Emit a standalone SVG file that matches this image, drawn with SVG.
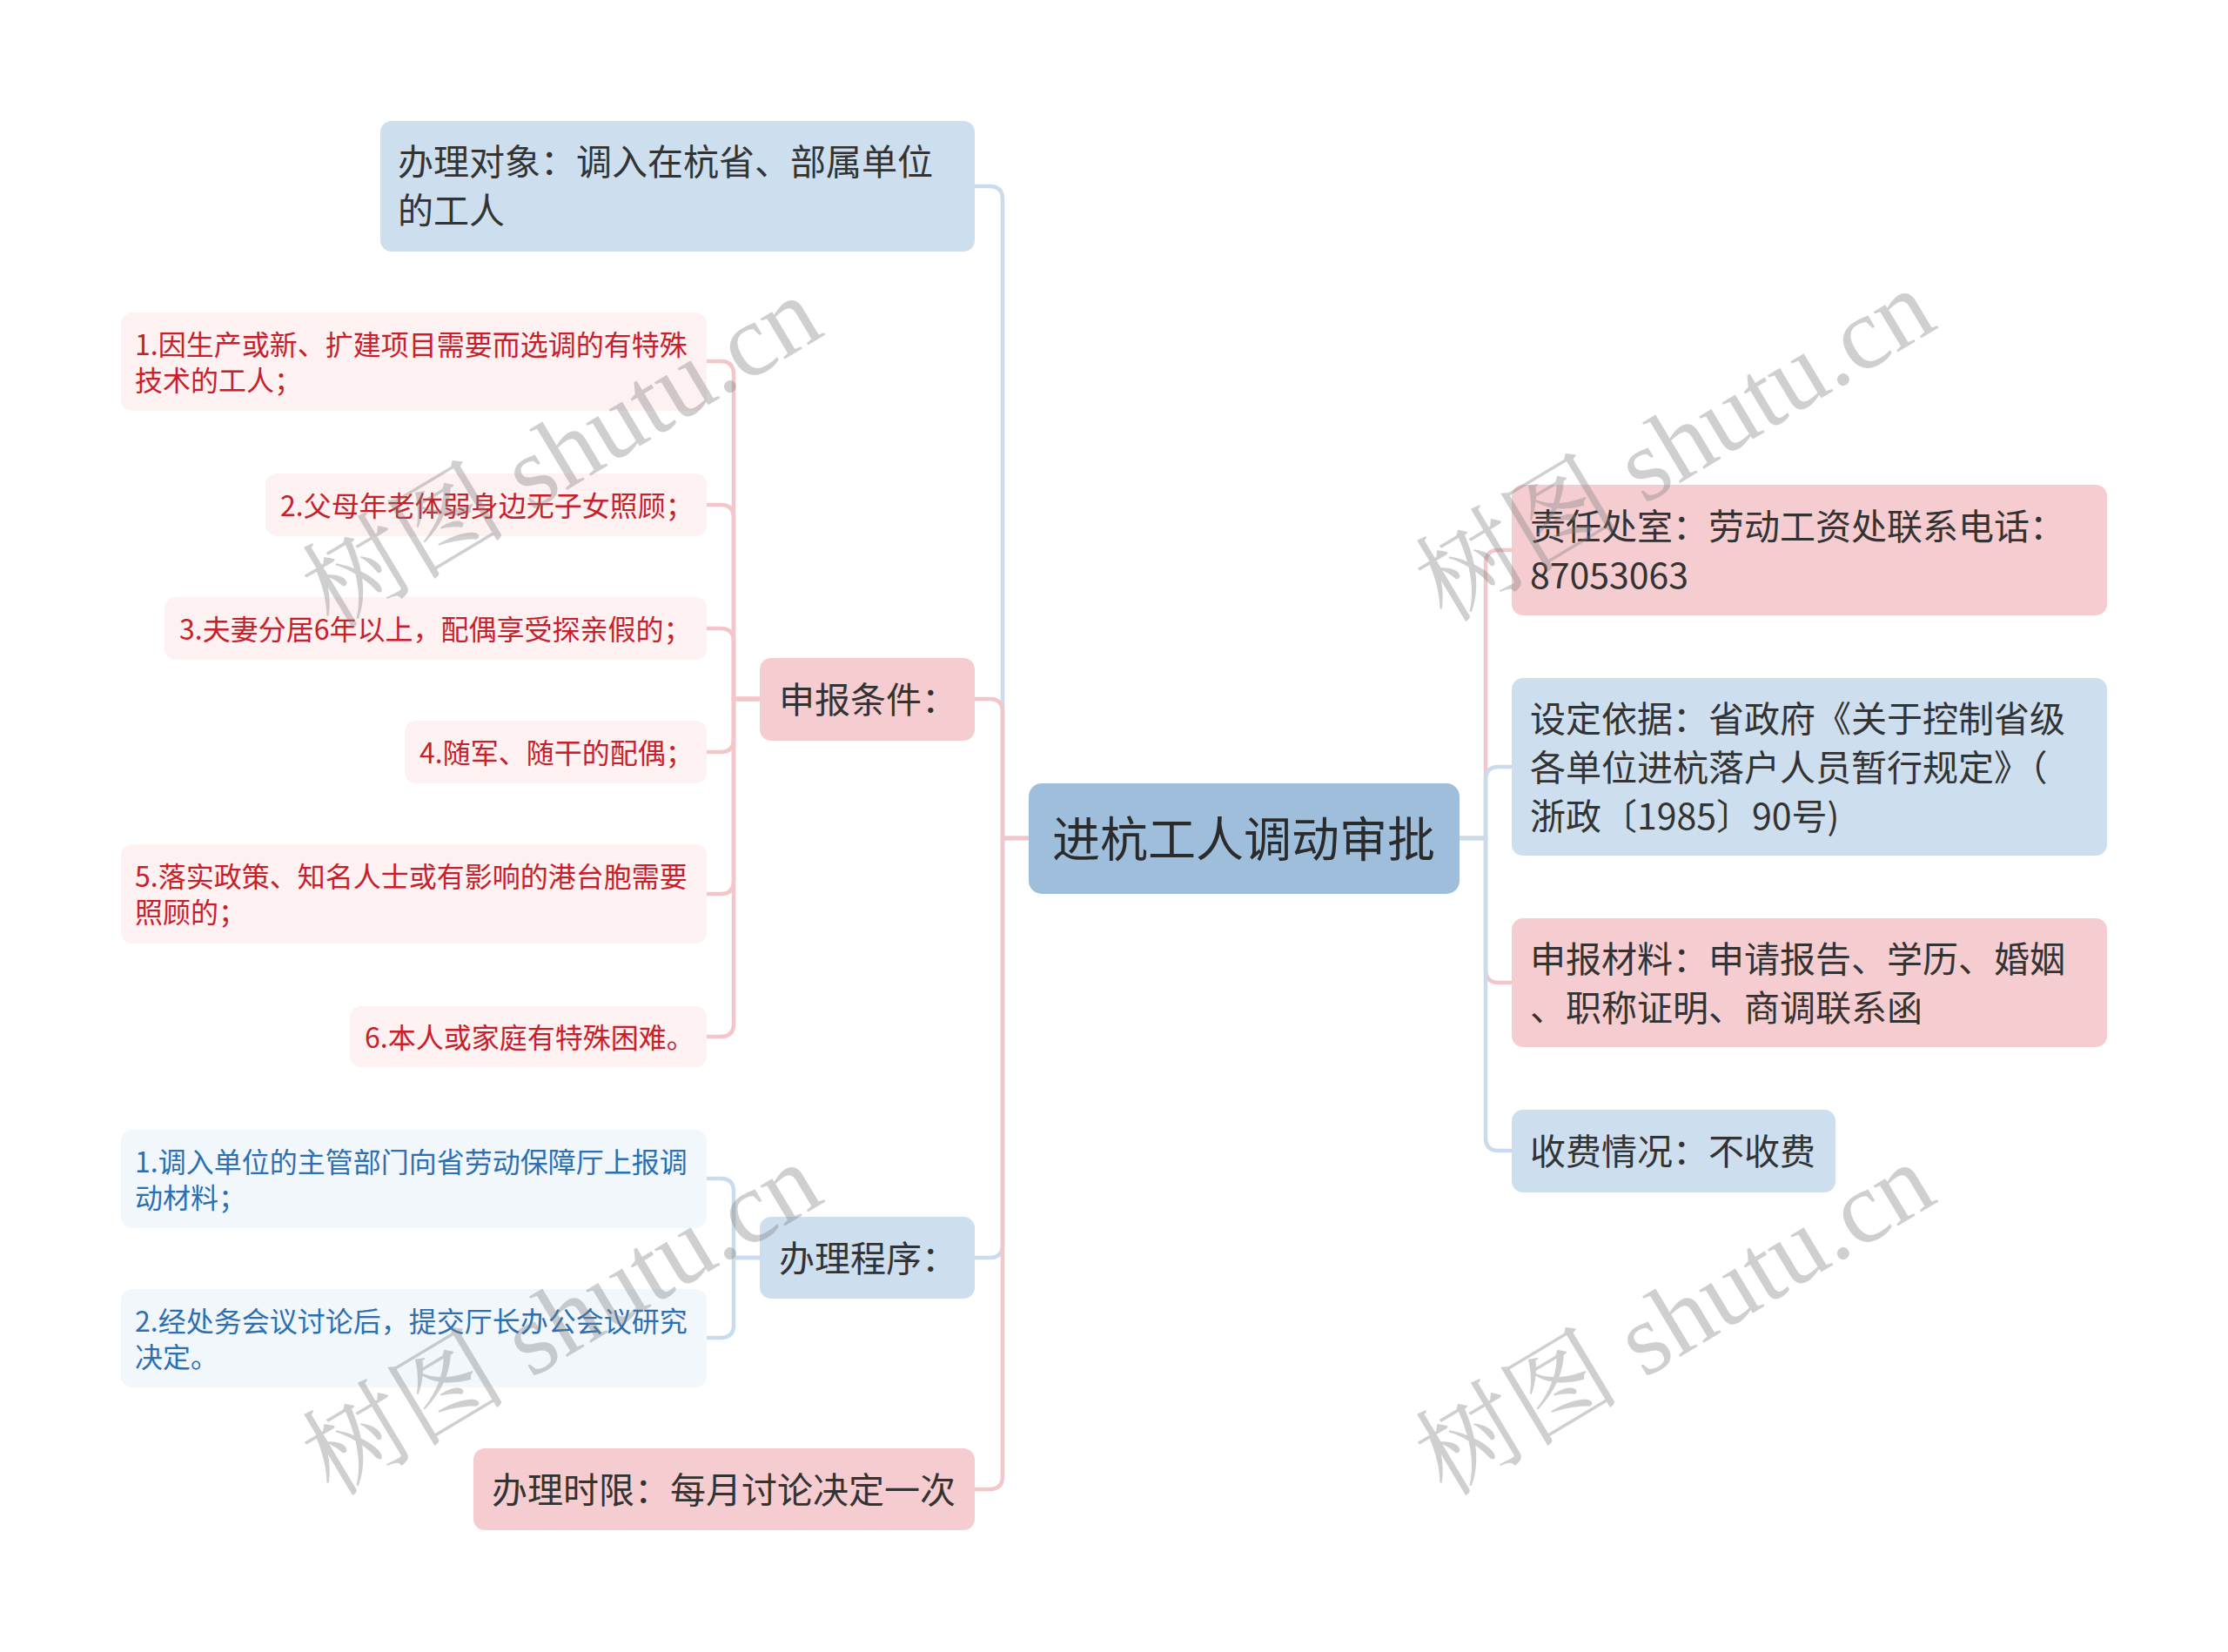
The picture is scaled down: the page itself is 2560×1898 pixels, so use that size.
<svg xmlns="http://www.w3.org/2000/svg" width="2560" height="1898" viewBox="0 0 2560 1898">
<style>
text{font-family:"Noto Sans CJK SC","Liberation Sans",sans-serif;dominant-baseline:central}
.root{fill:#9fbedc}
.b1{fill:#cddeee}
.p1{fill:#f5cdd0}
.p2{fill:#fdf1f2}
.b2{fill:#f2f7fc}
.t0{font-size:55px;fill:#2b2b2b}
.t1{font-size:41px;fill:#333333}
.tr{font-size:32px;fill:#c8202b}
.tb{font-size:32px;fill:#2c6fb2}
.cb{fill:none;stroke:#c9dbec;stroke-width:4.5}
.cp{fill:none;stroke:#f3c6ca;stroke-width:4.5}
.wm{font-family:"Liberation Serif","Noto Serif CJK SC","Noto Sans CJK SC",serif;font-size:118px;fill:#808080;fill-opacity:0.38;dominant-baseline:alphabetic}
</style>
<rect width="2560" height="1898" fill="#ffffff"/>
<g id="connectors">
<path class="cb" d="M1182 963H1152V229Q1152 214 1137 214H1120"/>
<path class="cb" d="M1182 963H1152V1430Q1152 1445 1137 1445H1120"/>
<path class="cp" d="M1182 963H1152V818Q1152 803 1137 803H1120"/>
<path class="cp" d="M1182 963H1152V1696Q1152 1711 1137 1711H1120"/>
<path class="cp" d="M1677 963H1707V647Q1707 632 1722 632H1737"/>
<path class="cp" d="M1677 963H1707V1114Q1707 1129 1722 1129H1737"/>
<path class="cb" d="M1677 963H1707V896Q1707 881 1722 881H1737"/>
<path class="cb" d="M1677 963H1707V1307Q1707 1322 1722 1322H1737"/>
<path class="cp" d="M873 803H843V430Q843 415 828 415H812"/>
<path class="cp" d="M873 803H843V595Q843 580 828 580H812"/>
<path class="cp" d="M873 803H843V737Q843 722 828 722H812"/>
<path class="cp" d="M873 803H843V849Q843 864 828 864H812"/>
<path class="cp" d="M873 803H843V1012Q843 1027 828 1027H812"/>
<path class="cp" d="M873 803H843V1176Q843 1191 828 1191H812"/>
<path class="cb" d="M873 1445H843V1369Q843 1354 828 1354H812"/>
<path class="cb" d="M873 1445H843V1522Q843 1537 828 1537H812"/>
</g>
<g id="root">
<rect class="root" x="1182" y="900" width="495" height="127" rx="15"/>
<text class="t0" x="1429" y="960" text-anchor="middle">进杭工人调动审批</text>
</g>
<g id="n-object">
<rect class="b1" x="437" y="139" width="683" height="150" rx="13"/>
<text class="t1" x="457" y="183">办理对象：调入在杭省、部属单位</text>
<text class="t1" x="457" y="239">的工人</text>
</g>
<g id="n-conditions">
<rect class="p1" x="873" y="756" width="247" height="95" rx="13"/>
<text class="t1" x="895" y="801">申报条件：</text>
</g>
<g id="n-procedure">
<rect class="b1" x="873" y="1398" width="247" height="94" rx="13"/>
<text class="t1" x="895" y="1443">办理程序：</text>
</g>
<g id="n-limit">
<rect class="p1" x="544" y="1664" width="576" height="94" rx="13"/>
<text class="t1" x="565" y="1709">办理时限：每月讨论决定一次</text>
</g>
<g id="n-office">
<rect class="p1" x="1737" y="557" width="684" height="150" rx="13"/>
<text class="t1" x="1758" y="602">责任处室：劳动工资处联系电话：</text>
<text class="t1" x="1758" y="658">87053063</text>
</g>
<g id="n-basis">
<rect class="b1" x="1737" y="779" width="684" height="204" rx="13"/>
<text class="t1" x="1758" y="823">设定依据：省政府《关于控制省级</text>
<text class="t1" x="1758" y="879">各单位进杭落户人员暂行规定》（</text>
<text class="t1" x="1758" y="935">浙政〔1985〕90号)</text>
</g>
<g id="n-materials">
<rect class="p1" x="1737" y="1055" width="684" height="148" rx="13"/>
<text class="t1" x="1758" y="1099">申报材料：申请报告、学历、婚姻</text>
<text class="t1" x="1758" y="1155">、职称证明、商调联系函</text>
</g>
<g id="n-fee">
<rect class="b1" x="1737" y="1275" width="372" height="95" rx="13"/>
<text class="t1" x="1758" y="1320">收费情况：不收费</text>
</g>
<g id="c1">
<rect class="p2" x="139" y="359" width="673" height="113" rx="13"/>
<text class="tr" x="155" y="394">1.因生产或新、扩建项目需要而选调的有特殊</text>
<text class="tr" x="155" y="435">技术的工人；</text>
</g>
<g id="c2">
<rect class="p2" x="305" y="544" width="507" height="72" rx="13"/>
<text class="tr" x="322" y="579">2.父母年老体弱身边无子女照顾；</text>
</g>
<g id="c3">
<rect class="p2" x="189" y="686" width="623" height="72" rx="13"/>
<text class="tr" x="206" y="721">3.夫妻分居6年以上，配偶享受探亲假的；</text>
</g>
<g id="c4">
<rect class="p2" x="465" y="828" width="347" height="72" rx="13"/>
<text class="tr" x="482" y="863">4.随军、随干的配偶；</text>
</g>
<g id="c5">
<rect class="p2" x="139" y="970" width="673" height="114" rx="13"/>
<text class="tr" x="155" y="1005">5.落实政策、知名人士或有影响的港台胞需要</text>
<text class="tr" x="155" y="1046">照顾的；</text>
</g>
<g id="c6">
<rect class="p2" x="402" y="1156" width="410" height="70" rx="13"/>
<text class="tr" x="419" y="1190">6.本人或家庭有特殊困难。</text>
</g>
<g id="p1">
<rect class="b2" x="139" y="1298" width="673" height="113" rx="13"/>
<text class="tb" x="155" y="1333">1.调入单位的主管部门向省劳动保障厅上报调</text>
<text class="tb" x="155" y="1374">动材料；</text>
</g>
<g id="p2">
<rect class="b2" x="139" y="1481" width="673" height="113" rx="13"/>
<text class="tb" x="155" y="1516">2.经处务会议讨论后，提交厅长办公会议研究</text>
<text class="tb" x="155" y="1557">决定。</text>
</g>
<g id="watermarks">
<text class="wm" x="645" y="560" text-anchor="middle" transform="rotate(-31 645 519)">树图 shutu.cn</text>
<text class="wm" x="1924" y="552" text-anchor="middle" transform="rotate(-31 1924 511)">树图 shutu.cn</text>
<text class="wm" x="645" y="1556" text-anchor="middle" transform="rotate(-31 645 1515)">树图 shutu.cn</text>
<text class="wm" x="1924" y="1556" text-anchor="middle" transform="rotate(-31 1924 1515)">树图 shutu.cn</text>
</g>
</svg>
